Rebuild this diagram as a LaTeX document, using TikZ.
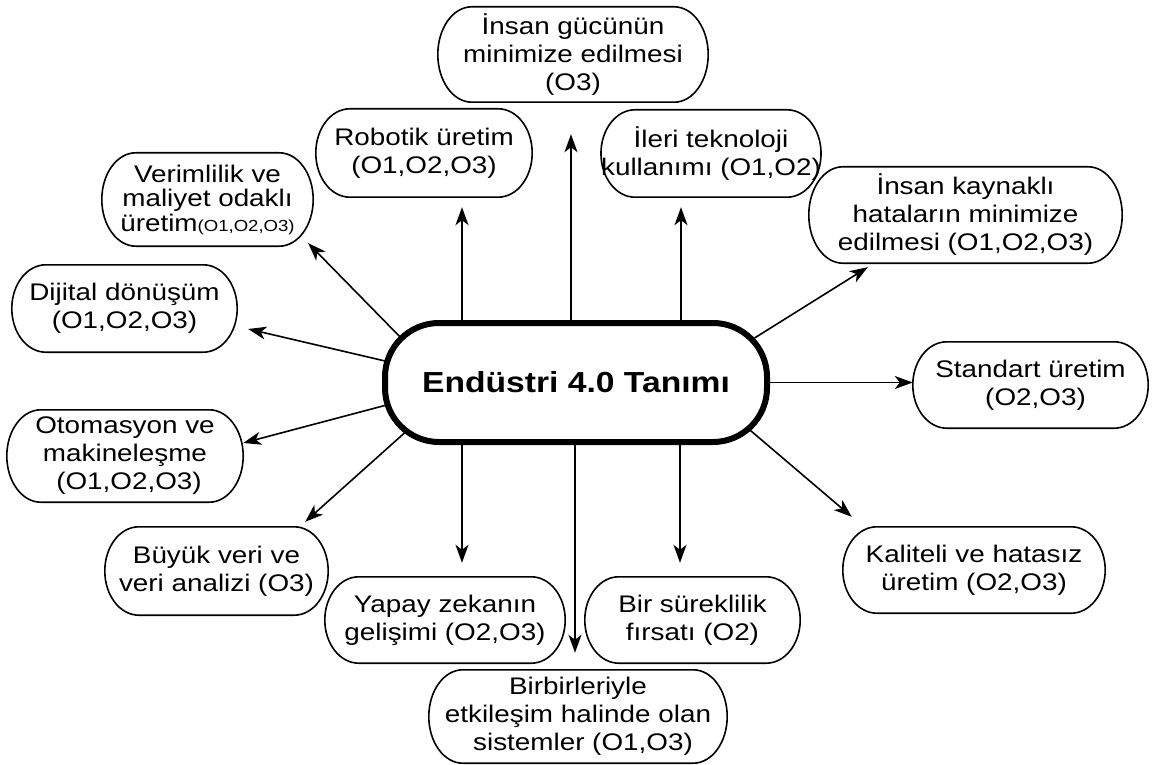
\documentclass[tikz,border=0pt]{standalone}
\usepackage{fontspec}
\setmainfont[FakeStretch=1.16]{Liberation Sans}
\usetikzlibrary{arrows.meta,backgrounds,calc}
\begin{document}
\begin{tikzpicture}[x=1pt,y=-1pt,
  item/.style={inner sep=0pt, align=center, font=\fontsize{24}{28}\selectfont},
  frame/.style={line width=1.6pt},
  hub/.style={draw, line width=6pt, rounded corners=54pt, fill=white,
    inner sep=0pt, font=\fontsize{29}{34}\selectfont\bfseries},
  arr/.style={line width=1.6pt, -{Stealth[length=18pt,width=13pt,inset=5pt]}}]
\useasboundingbox (0,0) rectangle (1163,765);

% central concept
\node[hub, minimum width=382pt, minimum height=119pt] (c) at (576,382.5) {Endüstri 4.0 Tanımı};

% surrounding aspects
\node[item, minimum width=211pt, minimum height=93pt, font=\fontsize{24}{24.5}\selectfont] (ver) at (207.5,199.5)
  {Verimlilik ve\\maliyet odaklı\\üretim{\fontsize{16}{20}\selectfont(O1,O2,O3)}};
\node[item, minimum width=216pt, minimum height=88pt] (rob) at (424,153) {Robotik üretim\\(O1,O2,O3)};
\node[item, minimum width=270pt, minimum height=95pt] (ins) at (573,54.5) {İnsan gücünün\\minimize edilmesi\\(O3)};
\node[item, minimum width=218pt, minimum height=87pt] (ile) at (711,153.5) {İleri teknoloji\\kullanımı (O1,O2)};
\node[item, minimum width=313pt, minimum height=96pt] (ikh) at (965.5,215) {İnsan kaynaklı\\hataların minimize\\edilmesi (O1,O2,O3)};
\node[item, minimum width=235pt, minimum height=86pt] (std) at (1030.5,385) {Standart üretim\\\hspace*{10pt}(O2,O3)};
\node[item, minimum width=262pt, minimum height=86pt] (kal) at (974,570) {Kaliteli ve hatasız\\üretim (O2,O3)};
\node[item, minimum width=215pt, minimum height=86pt] (bir) at (692.5,620) {Bir süreklilik\\fırsatı (O2)};
\node[item, minimum width=298pt, minimum height=93pt] (bbr) at (578,716.5) {Birbirleriyle\\etkileşim halinde olan\\\hspace*{10pt}sistemler (O1,O3)};
\node[item, minimum width=240pt, minimum height=86pt] (yap) at (445,620) {Yapay zekanın\\gelişimi (O2,O3)};
\node[item, minimum width=223pt, minimum height=88pt] (buy) at (216.5,571) {Büyük veri ve\\veri analizi (O3)};
\node[item, minimum width=236pt, minimum height=92pt] (oto) at (125,456) {Otomasyon ve\\makineleşme\\\hspace*{8pt}(O1,O2,O3)};
\node[item, minimum width=225pt, minimum height=87pt] (dij) at (124.5,308.5) {Dijital dönüşüm\\(O1,O2,O3)};

% pill-shaped outlines with elliptical ends (horizontal radius 34pt)
\foreach \n in {ver,rob,ins,ile,ikh,std,kal,bir,bbr,yap,buy,oto,dij}{
  \draw[frame] ([xshift=34pt]\n.north west) -- ([xshift=-34pt]\n.north east)
    .. controls ([xshift=-15.2pt]\n.north east) and ($(\n.east)!0.5523!(\n.north east)$) .. (\n.east)
    .. controls ($(\n.east)!0.5523!(\n.south east)$) and ([xshift=-15.2pt]\n.south east) .. ([xshift=-34pt]\n.south east)
    -- ([xshift=34pt]\n.south west)
    .. controls ([xshift=15.2pt]\n.south west) and ($(\n.west)!0.5523!(\n.south west)$) .. (\n.west)
    .. controls ($(\n.west)!0.5523!(\n.north west)$) and ([xshift=15.2pt]\n.north west) .. cycle;
}

% arrow tips next to the aspect boxes
\coordinate (t-ver) at ([shift={(-5,-3)}]ver.south east);
\coordinate (t-rob) at ([shift={(38,10)}]rob.south);
\coordinate (t-ins) at ([shift={(-2,32)}]ins.south);
\coordinate (t-ile) at ([shift={(-30,10)}]ile.south);
\coordinate (t-ikh) at ([shift={(59,4)}]ikh.south west);
\coordinate (t-kal) at ([shift={(9,-10)}]kal.north west);
\coordinate (t-bir) at ([shift={(-12.5,-14)}]bir.north);
\coordinate (t-bbr) at ([shift={(-3,-17)}]bbr.north);
\coordinate (t-yap) at ([shift={(17,-14)}]yap.north);
\coordinate (t-buy) at ([shift={(-23,-5)}]buy.north east);
\coordinate (t-oto) at ([shift={(0,-13)}]oto.east);
\coordinate (t-dij) at ([shift={(11,20.5)}]dij.east);

% arrows, behind the central box
\begin{scope}[on background layer]
  \draw[arr] ([shift={(24,23)}]c.north west) -- (t-ver);
  \draw[arr] (c.north -| t-rob) -- (t-rob);
  \draw[arr] (c.north -| t-ins) -- (t-ins);
  \draw[arr] (c.north -| t-ile) -- (t-ile);
  \draw[arr] ([shift={(-25,24)}]c.north east) -- (t-ikh);
  \draw[arr] (c.east) -- (c.east -| std.west);
  \draw[arr] ([shift={(-26,-20)}]c.south east) -- (t-kal);
  \draw[arr] (c.south -| t-bir) -- (t-bir);
  \draw[arr] (c.south -| t-bbr) -- (t-bbr);
  \draw[arr] (c.south -| t-yap) -- (t-yap);
  \draw[arr] ([shift={(28,-17)}]c.south west) -- (t-buy);
  \draw[arr] ([shift={(16,19.5)}]c.west) -- (t-oto);
  \draw[arr] ([shift={(18,-18)}]c.west) -- (t-dij);
\end{scope}
\end{tikzpicture}
\end{document}
